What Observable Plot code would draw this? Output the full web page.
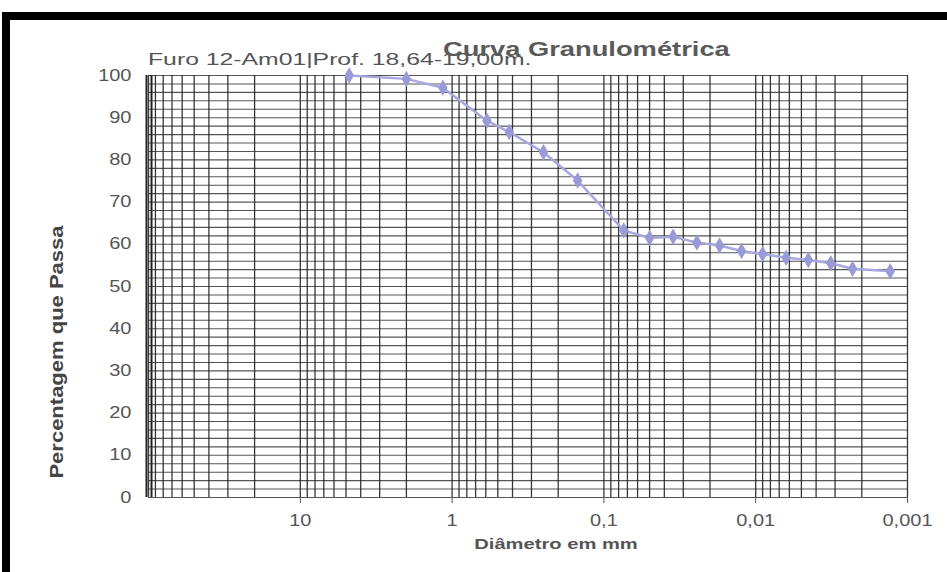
<!DOCTYPE html>
<html><head><meta charset="utf-8">
<script src="https://cdn.jsdelivr.net/npm/d3@7"></script>
<script src="https://cdn.jsdelivr.net/npm/@observablehq/plot@0.6"></script>
<style>
body{margin:0;background:#fff;}
#wrap{position:relative;width:947px;height:572px;overflow:hidden;font-family:Arial,"Liberation Sans",sans-serif;background:#fff;}
#wrap svg{position:absolute;left:0;top:0;}
.btop{position:absolute;left:5px;top:12px;width:942px;height:8px;background:#000;}
.bleft{position:absolute;left:2px;top:12px;width:8px;height:560px;background:#000;}
.title{position:absolute;left:443px;top:37px;font-size:21px;font-weight:bold;color:#5a5a5a;transform-origin:left top;transform:scaleX(1.3);white-space:nowrap;}
.sub{position:absolute;left:148px;top:50px;font-size:16.5px;color:#555;transform-origin:left top;transform:scaleX(1.5);white-space:nowrap;}
.ylab{position:absolute;left:57px;top:352px;font-size:22px;font-weight:bold;color:#444;transform:translate(-50%,-50%) rotate(-90deg) scaleY(0.8);white-space:nowrap;}
.xlab{position:absolute;left:556px;top:535px;font-size:15.5px;font-weight:bold;color:#555;transform:translateX(-50%) scaleX(1.3);white-space:nowrap;}
</style></head>
<body>
<div id="wrap">
  <div class="btop"></div><div class="bleft"></div>
  <div class="sub">Furo 12-Am01|Prof. 18,64-19,00m.</div>
  <div class="title">Curva Granulométrica</div>
  <div class="ylab">Percentagem que Passa</div>
  <div class="xlab">Diâmetro em mm</div>
</div>
<script>
// Data: particle diameter (mm) and percentage passing
const diameters = [4.76, 2.0, 1.15, 0.59, 0.42, 0.25, 0.149, 0.074, 0.050, 0.035, 0.0244, 0.0173, 0.0124, 0.0090, 0.0063, 0.0045, 0.0032, 0.0023, 0.0013];
const passing   = [100, 99.2, 97.1, 89.3, 86.6, 81.8, 75.1, 63.3, 61.5, 61.8, 60.4, 59.7, 58.4, 57.7, 56.8, 56.3, 55.5, 54.2, 53.6];
const xTicks = [10, 1, 0.1, 0.01, 0.001];
const yTicks = [0, 10, 20, 30, 40, 50, 60, 70, 80, 90, 100];

const rows = diameters.map((d, i) => ({d, p: passing[i]}));

// log-paper grid: 1..9 in each decade, horizontal every 2 %
const xGrid = [100];
for (let e = -3; e <= 1; e++) for (let k = 1; k <= 9; k++) xGrid.push(k * Math.pow(10, e));
const yGrid = d3.range(0, 101, 2);

const chart = Plot.plot({
  width: 947,
  height: 572,
  marginLeft: 148,
  marginRight: 40,
  marginTop: 75,
  marginBottom: 75,
  style: {background: "transparent", color: "#555", fontFamily: "Arial, 'Liberation Sans', sans-serif"},
  x: {type: "log", domain: [100, 0.001]},
  y: {domain: [0, 100]},
  marks: [
    Plot.ruleY(yGrid, {stroke: "#444", strokeWidth: 1.1, strokeOpacity: 0.9}),
    Plot.ruleX(xGrid, {stroke: "#222", strokeWidth: 1.3, strokeOpacity: 0.9}),
    Plot.ruleX([100], {dx: -2, stroke: "#222", strokeWidth: 2}),
    Plot.ruleX([100], {dx: 3, stroke: "#222", strokeWidth: 2}),
    Plot.axisY({ticks: yTicks, tickSize: 0, tickPadding: 17, label: null, fontSize: 16}),
    Plot.axisX({ticks: xTicks, tickSize: 6, tickPadding: 11, label: null, fontSize: 16,
      tickFormat: d => String(d).replace(".", ",")}),
    Plot.line(rows, {x: "d", y: "p", stroke: "#a8a8e0", strokeWidth: 2.5}),
    Plot.dot(rows, {x: "d", y: "p", symbol: "diamond", r: 5, fill: "#9a9ad8", stroke: "none"})
  ]
});
document.getElementById("wrap").prepend(chart);
// widen tick labels like the (horizontally stretched) original
chart.querySelectorAll('g[aria-label$="tick label"] text').forEach(t => {
  const tr = t.getAttribute("transform") || "";
  t.setAttribute("transform", tr + " scale(1.25,1)");
});
</script>
</body></html>
